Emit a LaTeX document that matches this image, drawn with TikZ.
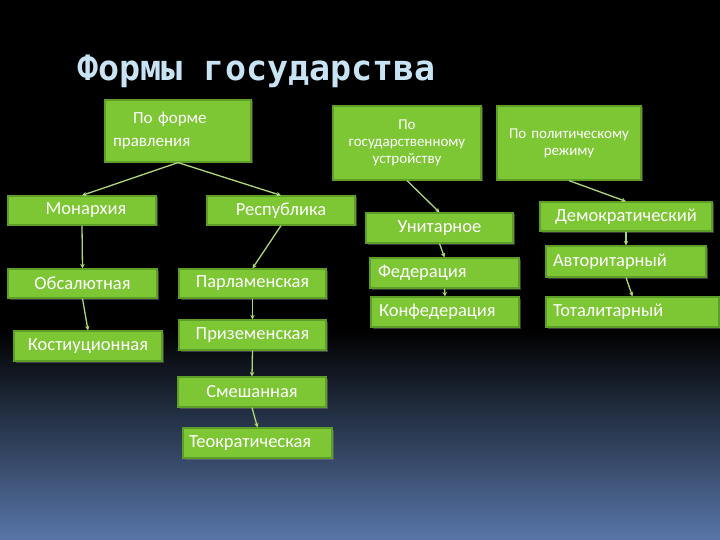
\documentclass[tikz,border=0pt]{standalone}
\usepackage{fontspec}
\setmainfont{Carlito}
\newfontfamily\titlefont{DejaVu Sans Mono}
\usetikzlibrary{shadows}
\usetikzlibrary{arrows.meta}
\definecolor{boxgreen}{RGB}{125,198,52}
\definecolor{boxedge}{RGB}{92,158,40}
\definecolor{linkgreen}{RGB}{172,216,120}
\definecolor{titleblue}{RGB}{200,228,244}
\definecolor{bottomblue}{RGB}{88,118,168}
\tikzset{
  box/.style={draw=boxedge, line width=1.2pt, fill=boxgreen, text=white,
    inner xsep=8pt, inner ysep=0pt, text width=#1, align=center,
    font=\fontsize{18.5}{21}\selectfont,
    drop shadow={opacity=0.45, shadow xshift=1.5pt, shadow yshift=-1.5pt}},
  link/.style={draw=linkgreen, line width=1.3pt, -{Stealth[length=4.5pt,width=4.5pt]}}
}
\begin{document}
\begin{tikzpicture}[x=1pt, y=-1pt]

  % background
  \fill[black] (0,0) rectangle (720,540);
  \shade[top color=black, bottom color=bottomblue] (0,330) rectangle (720,540);
  \useasboundingbox (0,0) rectangle (720,540);

  \node[anchor=west, text=titleblue, font=\titlefont\bfseries\fontsize{35}{40}\selectfont] (title) at (74,71) {Формы государства};

  % top level
  \node[box=130pt, minimum height=62pt, align=left, font=\fontsize{17}{23}\selectfont] (forma) at (178,131) {\hspace*{20pt}По форме\\правления};
  \node[box=132pt, minimum height=74pt, font=\fontsize{15}{17}\selectfont] (ustr) at (407,143) {По\\государственному\\устройству};
  \node[box=128pt, minimum height=74pt, font=\fontsize{15}{17}\selectfont] (rezh) at (569,143) {По политическому\\режиму};

  % forma
  \node[box=132pt, minimum height=29pt] (mon) at (82,210.5) {\hspace*{8pt}Монархия};
  \node[box=132pt, minimum height=29pt] (resp) at (281,210.5) {Республика};
  \node[box=133pt, minimum height=29pt] (abs) at (82.5,283.5) {Обсалютная};
  \node[box=132pt, minimum height=30pt] (konst) at (88,346) {Костиуционная};
  \node[box=131pt, minimum height=29pt] (parl) at (252.5,283.5) {Парламенская};
  \node[box=131pt, minimum height=30pt] (priz) at (252.5,335) {Приземенская};
  \node[box=132pt, minimum height=30pt] (smesh) at (252,392) {Смешанная};
  \node[box=137pt, minimum height=30pt, inner xsep=6pt, align=left] (teok) at (257.5,443) {Теократическая};

  % ustroistvo
  \node[box=131pt, minimum height=30pt] (unit) at (439.5,228) {Унитарное};
  \node[box=133pt, minimum height=30pt, align=left] (fed) at (444.5,273) {Федерация};
  \node[box=132pt, minimum height=30pt, align=left] (konf) at (445,312) {Конфедерация};

  % rezhim
  \node[box=156pt, minimum height=29pt] (dem) at (626,216.5) {Демократический};
  \node[box=146pt, minimum height=31pt, inner xsep=7pt, align=left] (avt) at (626,261.5) {Авторитарный};
  \node[box=159pt, minimum height=30pt, inner xsep=7pt, align=left] (tot) at (632.5,312) {Тоталитарный};

  % links
  \draw[link] (forma.south) -- (mon.north);
  \draw[link] (forma.south) -- (resp.north);
  \draw[link] (mon.south) -- (abs.north);
  \draw[link] (abs.south) -- (konst.north);
  \draw[link] (resp.south) -- (parl.north);
  \draw[link] (parl.south) -- (priz.north);
  \draw[link] (priz.south) -- (smesh.north);
  \draw[link] (smesh.south) -- (teok.north);
  \draw[link] (ustr.south) -- (unit.north);
  \draw[link] (unit.south) -- (fed.north);
  \draw[link] (fed.south) -- (konf.north);
  \draw[link] (rezh.south) -- (dem.north);
  \draw[link] (dem.south) -- (avt.north);
  \draw[link] (avt.south) -- (tot.north);

\end{tikzpicture}
\end{document}
